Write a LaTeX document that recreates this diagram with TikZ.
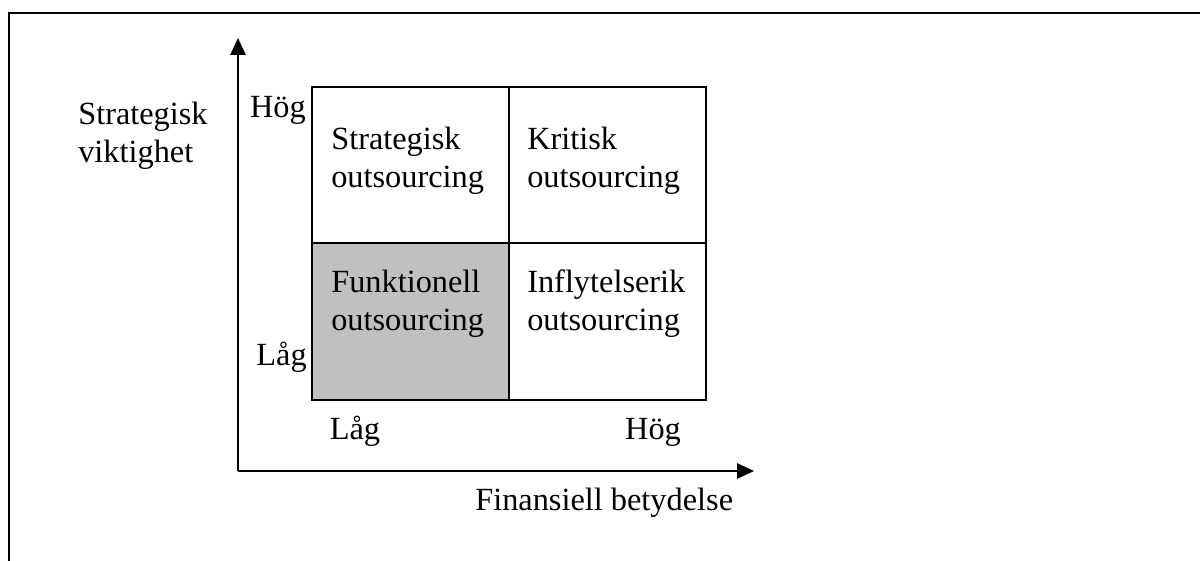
\documentclass[tikz,border=0pt]{standalone}
\usepackage{fontspec}
\setmainfont{Liberation Serif}
\usetikzlibrary{positioning, arrows.meta}
\definecolor{cellGray}{RGB}{192, 192, 192}

\begin{document}
\begin{tikzpicture}[
        x=0.025cm, y=-0.025cm,
        font=\fontsize{23}{26.4}\selectfont,
        cell/.style={rectangle, draw, line width=1.4pt, inner sep=0pt,
            minimum width=4.925cm, minimum height=3.91cm},
        lbl/.style={align=left, inner sep=0pt, anchor=base west},
        axis/.style={-{Triangle[length=0.42cm, width=0.38cm]}, line width=1.2pt}
    ]
    \useasboundingbox (0,0) rectangle (1200,560);
    \clip (0,0) rectangle (1200,560);
    \draw[line width=1.5pt] (9,13) rectangle (1220,580);

    % axes
    \coordinate (origin) at (238,471);
    \coordinate (ytip) at (238,38);
    \coordinate (xtip) at (754,471);
    \draw[axis] (origin) -- (ytip);
    \draw[axis] (origin) -- (xtip);

    % matrix
    \node[cell, fill=cellGray] (fun) at (410.5,321.5) {};
    \node[cell] (str) at (410.5,165) {};
    \node[cell] (kri) at (607.5,165) {};
    \node[cell] (inf) at (607.5,321.5) {};

    \node[lbl] (strTxt) at (331,187) {Strategisk\\outsourcing};
    \node[lbl] (kriTxt) at (527,187) {Kritisk\\outsourcing};
    \node[lbl] (funTxt) at (331,330) {Funktionell\\outsourcing};
    \node[lbl] (infTxt) at (527,330) {Inflytelserik\\outsourcing};

    % axis labels
    \node[lbl] (yName) at (78,162) {Strategisk\\viktighet};
    \node[inner sep=0pt, anchor=base east] (yHigh) at (306,117) {Hög};
    \node[inner sep=0pt, anchor=base east] (yLow) at (307,365) {Låg};
    \node[inner sep=0pt, anchor=base] (xLow) at (355,439) {Låg};
    \node[inner sep=0pt, anchor=base] (xHigh) at (653,439) {Hög};
    \node[lbl] (xName) at (475,510) {Finansiell betydelse};
\end{tikzpicture}
\end{document}
